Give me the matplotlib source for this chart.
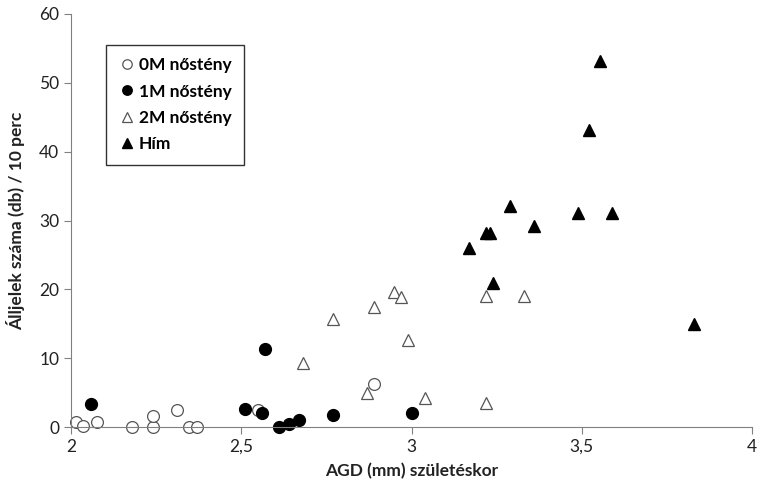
import matplotlib
matplotlib.use("Agg")
import matplotlib.pyplot as plt
from matplotlib.ticker import FuncFormatter

plt.rcParams["font.family"] = ["Lato", "DejaVu Sans"]

# AGD values (mm) and counts per group
x_0m = [2.015, 2.035, 2.076, 2.18, 2.24, 2.24, 2.31, 2.347, 2.37, 2.55, 2.89]
y_0m = [0.7, 0.15, 0.7, 0, 0, 1.6, 2.5, 0, 0, 2.5, 6.2]

x_1m = [2.06, 2.51, 2.56, 2.57, 2.61, 2.64, 2.67, 2.77, 3.0]
y_1m = [3.4, 2.6, 2.0, 11.3, 0, 0.4, 1.0, 1.7, 2.0]

x_2m = [2.68, 2.77, 2.89, 2.95, 2.97, 2.99, 2.87, 3.04, 3.22, 3.22, 3.33]
y_2m = [9.3, 15.7, 17.4, 19.6, 18.9, 12.6, 4.9, 4.2, 19.0, 3.5, 19.0]

x_him = [3.17, 3.22, 3.23, 3.24, 3.29, 3.36, 3.49, 3.52, 3.555, 3.59, 3.83]
y_him = [26.0, 28.2, 28.2, 20.9, 32.1, 29.2, 31.1, 43.2, 53.2, 31.1, 15.0]

fig = plt.figure(figsize=(7.57, 4.88), dpi=100)
ax = fig.add_axes([71 / 757, 1 - 427 / 488, (752 - 71) / 757, (427 - 14) / 488])

ms = 8.5
ax.plot(x_0m, y_0m, "o", ms=ms, mfc="white", mec="#555555", mew=0.9,
        label="0M nőstény", clip_on=False)
ax.plot(x_1m, y_1m, "o", ms=ms, mfc="black", mec="black",
        label="1M nőstény", clip_on=False)
ax.plot(x_2m, y_2m, "^", ms=ms, mfc="white", mec="#555555", mew=0.9,
        label="2M nőstény", clip_on=False)
ax.plot(x_him, y_him, "^", ms=ms, mfc="black", mec="black",
        label="Hím", clip_on=False)

ax.set_xlim(2, 4)
ax.set_ylim(0, 60)
ax.set_xticks([2, 2.5, 3, 3.5, 4])
ax.set_yticks(range(0, 61, 10))
ax.xaxis.set_major_formatter(FuncFormatter(lambda v, p: f"{v:g}".replace(".", ",")))

for side in ["top", "right"]:
    ax.spines[side].set_visible(False)
for side in ["left", "bottom"]:
    ax.spines[side].set_color("#808080")
ax.tick_params(axis="both", colors="#808080", labelcolor="#222222",
               labelsize=12.5, length=5, width=0.8)

ax.set_xlabel("AGD (mm) születéskor", fontsize=12.5, fontweight="bold",
              color="#222222", labelpad=6)
ax.set_ylabel("Álljelek száma (db) / 10 perc", fontsize=12.5, fontweight="bold",
              color="#222222", labelpad=10)

leg = ax.legend(loc="upper left", bbox_to_anchor=(0.051, 0.925),
                prop={"weight": "bold", "size": 12.5}, frameon=True, fancybox=False,
                handletextpad=0.2, handlelength=1.0, markerscale=0.8,
                borderpad=0.7, labelspacing=0.6, borderaxespad=0)
leg.get_frame().set_edgecolor("black")
leg.get_frame().set_linewidth(1.0)

fig.savefig("out.png", dpi=100)
